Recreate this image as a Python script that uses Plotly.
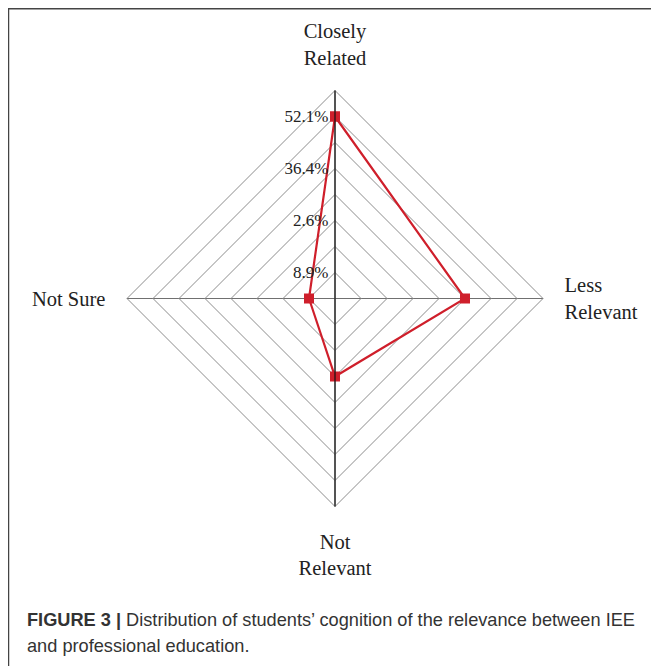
import plotly.graph_objects as go

# ---- data ----
categories = ["Closely<br>Related", "Less<br>Relevant", "Not<br>Relevant", "Not Sure"]
positions = [7, 5, 3, 1]            # radial position of each point (grid-ring units)
value_labels = ["52.1%", "36.4%", "2.6%", "8.9%"]
ring_vals = [1, 2, 3, 4, 5, 6, 7, 8]

# page has an 8px body margin; figure occupies the rest
W, H = 651, 658
OFF = 8
cx, cy, R = 335 - OFF, 298.5 - OFF, 208

tick_text = []
for v in ring_vals:
    t = ""
    for p, lab in zip(positions, value_labels):
        if p == v:
            t = lab
    tick_text.append(t)

red = "#cf1f2b"
fig = go.Figure()
fig.add_trace(go.Scatterpolar(
    r=positions + positions[:1],
    theta=categories + categories[:1],
    mode="lines+markers",
    line=dict(color=red, width=2.2),
    marker=dict(symbol="square", size=10, color=red),
    subplot="polar",
    showlegend=False,
))
fig.add_trace(go.Scatterpolar(
    r=[0], theta=[categories[0]], mode="markers",
    marker=dict(size=0.1, opacity=0), subplot="polar2",
    showlegend=False, hoverinfo="skip",
))

dom_x = [(cx - R) / W, (cx + R) / W]
dom_y = [1 - (cy + R) / H, 1 - (cy - R) / H]

serif = "Liberation Serif, Times New Roman, serif"
sans = "Liberation Sans, Arial, sans-serif"
fig.update_layout(
    width=W, height=H,
    margin=dict(l=0, r=0, t=0, b=0),
    paper_bgcolor="white",
    polar=dict(
        domain=dict(x=dom_x, y=dom_y),
        gridshape="linear",
        bgcolor="rgba(0,0,0,0)",
        radialaxis=dict(
            range=[0, 8], tickvals=ring_vals, ticktext=tick_text,
            angle=90, tickangle=90, side="counterclockwise",
            showline=True, linecolor="#111", linewidth=1.2,
            gridcolor="#8c8c8c", gridwidth=1,
            ticks="", tickfont=dict(family=serif, size=17, color="#222"),
        ),
        angularaxis=dict(
            direction="clockwise", rotation=90,
            categoryorder="array", categoryarray=categories,
            showline=True, linecolor="#8c8c8c", linewidth=1,
            gridcolor="#707070", gridwidth=1,
            ticks="outside", ticklen=17, tickcolor="rgba(0,0,0,0)",
            tickfont=dict(family=serif, size=20.5, color="#222"),
        ),
    ),
    polar2=dict(
        domain=dict(x=dom_x, y=dom_y),
        gridshape="linear",
        bgcolor="rgba(0,0,0,0)",
        radialaxis=dict(
            range=[0, 8], angle=270, showline=True, linecolor="#111", linewidth=1.2,
            showgrid=False, showticklabels=False, ticks="",
        ),
        angularaxis=dict(
            direction="clockwise", rotation=90,
            categoryorder="array", categoryarray=categories,
            showline=False, showgrid=False, showticklabels=False, ticks="",
        ),
    ),
    shapes=[
        dict(type="line", xref="paper", yref="paper",
             x0=0, x1=1, y0=1 - 0.5 / H, y1=1 - 0.5 / H,
             line=dict(color="#444", width=2)),
        dict(type="line", xref="paper", yref="paper",
             x0=0.5 / W, x1=0.5 / W, y0=0, y1=1,
             line=dict(color="#444", width=1.5)),
    ],
    annotations=[
        dict(xref="paper", yref="paper", x=(25 - OFF) / W, y=1 - (620 - OFF) / H,
             xanchor="left", yanchor="middle", showarrow=False,
             text="<b>FIGURE 3 |</b> Distribution of students’ cognition of the relevance between IEE",
             font=dict(family=sans, size=18.2, color="#333")),
        dict(xref="paper", yref="paper", x=(25 - OFF) / W, y=1 - (645.5 - OFF) / H,
             xanchor="left", yanchor="middle", showarrow=False,
             text="and professional education.",
             font=dict(family=sans, size=18.2, color="#333")),
    ],
)

fig.write_html("out.html")
